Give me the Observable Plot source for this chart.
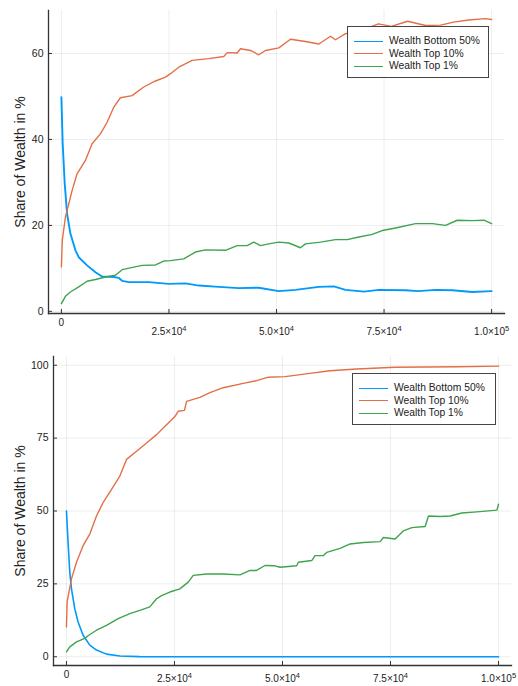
<!DOCTYPE html>
<html>
<head>
<meta charset="utf-8">
<script src="https://cdn.jsdelivr.net/npm/d3@7"></script>
<script src="https://cdn.jsdelivr.net/npm/@observablehq/plot@0.6"></script>
<style>
  html, body { margin: 0; padding: 0; background: #fff; }
  #wrap { position: relative; width: 518px; height: 686px; font-family: "Liberation Sans", Arial, sans-serif; }
  .panel { position: relative; width: 518px; height: 343px; }
  .panel svg { display: block; }
  .legend { position: absolute; background: #fff; border: 1px solid #444; box-sizing: border-box; }
  .legend .row { position: absolute; left: 0; height: 12px; font-size: 10.3px; color: #222; white-space: nowrap; line-height: 12px; }
  .legend .sw { position: absolute; left: 6px; top: 5.5px; width: 29px; height: 0; border-top: 1.3px solid; }
  .legend .lab { position: absolute; left: 41px; top: 0; }
</style>
</head>
<body>
<div id="wrap"></div>
<script>
// ---------- data ----------
const seriesNames = ["Wealth Bottom 50%", "Wealth Top 10%", "Wealth Top 1%"];
const seriesColors = ["#009AFA", "#E36F47", "#3EA44E"];

const xTicks = [0, 25000, 50000, 75000, 100000];
const xTickMantissa = ["0", "2.5×10", "5.0×10", "7.5×10", "1.0×10"];
const xTickExponent = ["", "4", "4", "4", "5"];
const yTicksTop = [0, 20, 40, 60];
const yTicksBottom = [0, 25, 50, 75, 100];
const yLabel = "Share of Wealth in %";

// top panel: [step, share %]
const topBottom50 = [[0,49.8],[300,39],[770,29.7],[1320,22.7],[2090,18.1],[3260,14.2],[4030,12.6],[5970,10.7],[7910,9.1],[9460,8.1],[12170,8.0],[13300,7.8],[14110,7.1],[15660,6.8],[20300,6.8],[24960,6.4],[28840,6.5],[31930,6.0],[36580,5.7],[41240,5.4],[45890,5.5],[50540,4.7],[54420,5.0],[59840,5.7],[63330,5.8],[66050,5.0],[70310,4.6],[73800,5.0],[80000,4.9],[83000,4.7],[86980,5.0],[90860,4.9],[95500,4.5],[100000,4.7]];
const topTop10 = [[0,10.3],[200,16.5],[930,21.9],[2480,28.1],[3640,32],[5580,35.1],[7130,39],[9070,41.3],[10620,44],[12170,47.5],[13720,49.7],[16430,50.2],[19140,52.2],[21860,53.6],[24190,54.5],[25350,55.3],[27290,56.8],[30390,58.4],[34260,58.8],[37750,59.3],[38530,60.2],[40860,60.1],[41630,61.1],[43950,60.7],[45890,59.7],[47440,60.7],[50540,61.3],[53260,63.3],[56740,62.8],[59840,62.2],[62560,64],[63720,63.2],[66050,64.6],[70000,65.5],[73700,66.9],[76700,66.3],[80470,67.5],[84650,66.5],[88140,66.6],[91160,67.3],[94650,67.8],[98600,68.1],[100000,67.9]];
const topTop1 = [[0,1.8],[930,3.5],[2090,4.5],[4030,5.7],[5970,7.0],[7910,7.4],[10230,8.0],[12560,8.4],[14110,9.7],[16820,10.3],[18760,10.7],[21860,10.8],[23800,11.7],[25350,11.8],[28450,12.2],[31160,13.8],[33490,14.3],[38140,14.2],[40860,15.3],[43180,15.3],[44720,16.1],[46280,15.3],[48210,15.7],[50540,16.1],[52870,15.9],[55580,14.8],[56740,15.7],[60230,16.1],[63720,16.7],[66440,16.7],[69150,17.3],[72250,17.9],[74580,18.8],[77680,19.4],[82330,20.4],[86200,20.4],[89300,20.0],[92020,21.2],[95500,21.1],[98220,21.2],[100000,20.4]];

// bottom panel: [step, share %]
const botBottom50 = [[0,50.0],[370,39.2],[770,29.0],[1160,23.3],[1920,16.5],[2690,11.9],[3850,7.4],[5400,4.0],[6950,2.3],[9270,0.9],[12350,0.25],[16980,0.05],[25000,0.0],[50000,0.0],[75000,0.0],[100000,0.0]];
const botTop10 = [[0,10.2],[150,18.8],[1160,26.7],[2320,32.4],[3850,38.1],[5400,42.1],[6950,48.3],[8480,52.9],[10430,57.4],[12350,62.0],[13900,67.7],[16220,70.5],[18540,73.3],[20850,76.2],[23170,79.6],[25090,82.4],[25860,84.2],[27300,84.5],[27800,87.6],[30890,89.0],[33200,90.6],[36290,92.3],[40920,93.8],[44020,94.7],[46710,95.9],[50580,96.1],[56370,97.2],[61000,98.1],[67190,98.7],[76070,99.3],[90360,99.5],[100000,99.7]];
const botTop1 = [[0,1.7],[770,3.4],[2320,5.1],[4240,6.3],[5000,7.2],[6950,9.1],[9270,10.8],[11960,13.1],[14670,14.8],[16980,15.9],[19300,17.1],[20850,19.9],[22010,21.0],[23930,22.2],[26250,23.3],[28180,25.6],[29340,27.9],[32440,28.4],[36290,28.4],[40150,28.1],[42470,29.6],[44000,29.6],[45950,31.3],[48270,31.2],[49420,30.7],[53290,31.2],[53670,32.4],[56770,33.0],[57530,34.7],[59460,34.7],[60230,35.8],[63330,37.2],[65640,38.7],[68720,39.2],[72590,39.5],[73360,40.9],[76070,40.4],[76830,41.5],[77990,43.2],[79930,44.3],[83020,44.7],[83790,48.3],[86480,48.1],[88800,48.3],[91510,49.3],[94990,49.7],[99620,50.3],[100000,52.3]];

// ---------- drawing ----------
const W = 518, H = 343;
const xDomain = [-3000, 103000];
const fmtX = d => { const i = xTicks.indexOf(d); return xTickMantissa[i] + xTickExponent[i]; };

function panel({series, yDomain, yTicks, ml, mr, mt, mb, blueWidth, sciShift}) {
  const innerW = W - ml - mr, innerH = H - mt - mb;
  const lines = series.map((s, i) => Plot.line(s, {
    x: d => d[0], y: d => d[1], stroke: seriesColors[i],
    strokeWidth: i === 0 ? blueWidth : 1.4, strokeLinejoin: "round"
  }));
  const svg = Plot.plot({
    width: W, height: H,
    marginLeft: ml, marginRight: mr, marginTop: mt, marginBottom: mb,
    style: { fontFamily: "Liberation Sans, Arial, sans-serif", fontSize: "10px", color: "#222", background: "#fff" },
    x: { domain: xDomain },
    y: { domain: yDomain },
    marks: [
      Plot.gridX(xTicks, { stroke: "#000", strokeOpacity: 0.09, strokeWidth: 0.8 }),
      Plot.gridY(yTicks, { stroke: "#000", strokeOpacity: 0.09, strokeWidth: 0.8 }),
      Plot.tickX(xTicks, { x: d => d, insetTop: innerH - 4, stroke: "#333", strokeWidth: 1 }),
      Plot.tickY(yTicks, { y: d => d, insetRight: innerW - 4, stroke: "#333", strokeWidth: 1 }),
      ...lines,
      Plot.frame({ anchor: "left", stroke: "#333", strokeWidth: 1.3 }),
      Plot.frame({ anchor: "bottom", stroke: "#333", strokeWidth: 1.3 }),
      Plot.axisX(xTicks, { tickSize: 0, tickPadding: 5, tickFormat: fmtX, label: null, fontSize: 10 }),
      Plot.axisY(yTicks, { tickSize: 0, tickPadding: 5, label: null, fontSize: 10.5 }),
      Plot.axisY({ ticks: [], label: yLabel, labelAnchor: "center", labelArrow: "none", labelOffset: ml - 15, fontSize: 14 })
    ]
  });
  // typeset the exponents of the x tick labels as superscripts
  svg.querySelectorAll('g[aria-label="x-axis tick label"] text').forEach(t => {
    const i = xTickMantissa.findIndex((m, k) => m + xTickExponent[k] === t.textContent);
    if (i < 0 || !xTickExponent[i]) return;
    t.textContent = "";
    const a = document.createElementNS("http://www.w3.org/2000/svg", "tspan");
    a.textContent = xTickMantissa[i];
    const b = document.createElementNS("http://www.w3.org/2000/svg", "tspan");
    b.textContent = xTickExponent[i];
    b.setAttribute("dy", "-4");
    b.setAttribute("font-size", "7.5");
    t.appendChild(a); t.appendChild(b);
    const tr = t.getAttribute("transform") || "";
    t.setAttribute("transform", tr + ` translate(0,${sciShift})`);
  });
  return svg;
}

function legend(box) {
  const el = document.createElement("div");
  el.className = "legend";
  Object.assign(el.style, { left: box.left + "px", top: box.top + "px", width: box.width + "px", height: box.height + "px" });
  seriesNames.forEach((name, i) => {
    const row = document.createElement("div");
    row.className = "row";
    row.style.top = (box.rowTop + i * 12.7 - 6) + "px";
    row.style.width = box.width + "px";
    const sw = document.createElement("div");
    sw.className = "sw";
    sw.style.borderTopColor = seriesColors[i];
    const lab = document.createElement("div");
    lab.className = "lab";
    lab.textContent = name;
    row.appendChild(sw); row.appendChild(lab);
    el.appendChild(row);
  });
  return el;
}

const wrap = document.getElementById("wrap");

const p1 = document.createElement("div"); p1.className = "panel";
p1.appendChild(panel({ series: [topBottom50, topTop10, topTop1], yDomain: [-0.5, 70], yTicks: yTicksTop, ml: 48, mr: 14, mt: 10, mb: 30, blueWidth: 1.9, sciShift: 9 }));
p1.appendChild(legend({ left: 347, top: 26, width: 142, height: 52, rowTop: 14 }));
wrap.appendChild(p1);

const p2 = document.createElement("div"); p2.className = "panel";
p2.appendChild(panel({ series: [botBottom50, botTop10, botTop1], yDomain: [-3, 103], yTicks: yTicksBottom, ml: 53, mr: 7, mt: 13, mb: 21, blueWidth: 1.6, sciShift: 4 }));
p2.appendChild(legend({ left: 352, top: 30, width: 144, height: 52, rowTop: 14 }));
wrap.appendChild(p2);
</script>
</body>
</html>
